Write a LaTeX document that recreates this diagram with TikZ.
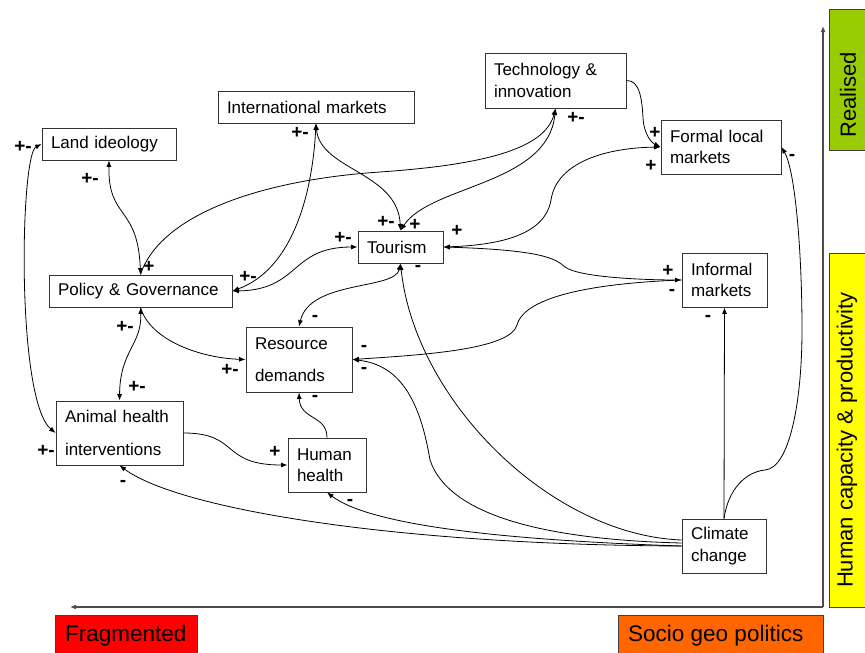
\documentclass[tikz,border=0pt]{standalone}
\usepackage{fontspec}
\setmainfont{Liberation Sans}
\usetikzlibrary{arrows.meta,calc}
\definecolor{realgreen}{HTML}{99CC00}
\definecolor{capyellow}{HTML}{FFFF00}
\definecolor{fragred}{HTML}{FF0000}
\definecolor{socorange}{HTML}{FF6600}
\tikzset{
  box/.style={draw=black!80, line width=0.9pt, fill=white, align=left, inner xsep=9pt, inner ysep=0pt,
    font=\fontsize{17}{21.5}\selectfont},
  lab/.style={font=\fontsize{19}{19}\selectfont\bfseries, inner sep=0pt},
  conn/.style={line width=0.8pt, black},
  tip/.tip={Latex[length=6.5pt,width=5pt]},
  bar/.style={draw=black!75, line width=0.8pt},
  bartext/.style={font=\fontsize{22}{22}\selectfont, inner sep=0pt},
  axis/.style={line width=1.3pt, black!70, -{Latex[length=6pt,width=5pt]}}
}
\begin{document}
\begin{tikzpicture}[x=1pt,y=-1pt]
\useasboundingbox (0,0) rectangle (865,653);

% nodes
\node[box, text width=116, minimum height=32] (land) at (109,144) {Land ideology};
\node[box, text width=178, minimum height=32] (intl) at (316,107) {International markets};
\node[box, text width=123, minimum height=55] (tech) at (555.5,80.5) {Technology \&\\innovation};
\node[box, text width=102, minimum height=54] (form) at (721,147) {Formal local\\markets};
\node[box, text width=67, minimum height=32] (tour) at (400.5,247) {Tourism};
\node[box, text width=165, minimum height=32] (pol) at (140.5,291) {Policy \& Governance};
\node[box, text width=67, minimum height=54] (info) at (724.5,280) {Informal\\markets};
\node[box, text width=88, minimum height=65] (res) at (299,359.5) {Resource\\[10pt]demands};
\node[box, text width=109, minimum height=64] (anim) at (119.5,433) {Animal health\\[11pt]interventions};
\node[box, text width=60, minimum height=54] (hum) at (327,465) {Human\\health};
\node[box, text width=66, minimum height=54] (clim) at (724,546) {Climate\\change};

% side bars
\draw[bar, fill=realgreen] (829,9) rectangle (872,150);
\node[bartext, rotate=90] (realt) at (848,95) {Realised};
\draw[bar, fill=capyellow] (829,253) rectangle (872,607);
\node[bartext, rotate=90] (capt) at (847,440) {Human capacity \& productivity};
\node[bar, fill=fragred, minimum width=142, minimum height=46, anchor=north west, inner sep=0pt] (frag) at (55,615) {};
\node[bartext, font=\fontsize{22.5}{22.5}\selectfont, anchor=west] at (65,636) {Fragmented};
\node[bar, fill=socorange, minimum width=205, minimum height=46, anchor=north west, inner sep=0pt] (soc) at (618,615) {};
\node[bartext, font=\fontsize{22.5}{22.5}\selectfont, anchor=west] at (628,636) {Socio geo politics};

% axes
\coordinate (orig) at (823,607);
\coordinate (ytop) at (823,26);
\coordinate (xleft) at (70,607);
\draw[axis] (orig) -- (ytop);
\draw[axis] (orig) -- (xleft);

% connectors
\begin{scope}[conn]
\draw[tip-tip] (land.west) .. controls (20,155) and (16,400) .. (anim.west);
\draw[tip-tip] (land.south) .. controls (108,220) and (138,205) .. (pol.north);
\draw[-tip] (pol.north) .. controls (160,215) and (260,180) .. (380,172) .. controls (480,165) and (545,150) .. (tech.south);
\draw[tip-tip] (tech.south) .. controls (548,185) and (430,185) .. (tour.north);
\draw[tip-tip] (intl.south) .. controls (320,170) and (398,172) .. (tour.north);
\draw[tip-tip] (intl.south) .. controls (312,200) and (290,270) .. (pol.east);
\draw[tip-tip] (pol.east) .. controls (300,290) and (290,247) .. (tour.west);
\draw[tip-tip] (tour.east) .. controls (500,245) and (545,235) .. (551,200) .. controls (556,165) and (600,148) .. (form.west);
\draw[-tip] (tech.east) .. controls (640,80) and (642,100) .. (643,118) .. controls (644,135) and (652,143) .. (form.west);
\draw[tip-tip] (tour.east) .. controls (540,250) and (555,258) .. (565,267) .. controls (580,278) and (650,280) .. (info.west);
\draw[-tip] (info.west) .. controls (600,283) and (525,295) .. (517,325) .. controls (510,350) and (420,355) .. (res.east);
\draw[-tip] ([yshift=6pt]clim.west) .. controls (550,535) and (415,400) .. (tour.south);
\draw[-tip] ([yshift=3pt]clim.west) .. controls (560,540) and (450,520) .. (430,460) .. controls (420,400) and (400,365) .. (res.east);
\draw[-tip] (clim.west) .. controls (500,540) and (370,525) .. (hum.south);
\draw[-tip] (clim.west) .. controls (400,545) and (180,510) .. (anim.south);
\draw[-tip] (clim.north) -- (info.south);
\draw[-tip] (clim.north) .. controls (728,490) and (745,472) .. (765,470) .. controls (790,468) and (802,400) .. (802,330) .. controls (802,250) and (795,170) .. (form.east);
\draw[tip-tip] (pol.south) .. controls (142,345) and (120,350) .. (anim.north);
\draw[-tip] (pol.south) .. controls (150,340) and (200,358) .. (res.west);
\draw[tip-tip] (tour.south) .. controls (395,290) and (310,280) .. (res.north);
\draw[-tip] (hum.north) .. controls (327,415) and (300,420) .. (res.south);
\draw[-tip] (anim.east) .. controls (240,433) and (220,465) .. (hum.west);
\end{scope}

% polarity labels
\node[lab] at (23,147) {+-};
\node[lab] at (90,179) {+-};
\node[lab] at (149,267) {+};
\node[lab] at (300,133) {+-};
\node[lab] at (576,118) {+-};
\node[lab] at (386,222) {+-};
\node[lab] at (415,225) {+};
\node[lab] at (457,231) {+};
\node[lab] at (343,238) {+-};
\node[lab] at (248,277) {+-};
\node[lab] at (655,133) {+};
\node[lab] at (651,166) {+};
\node[lab] at (792,157) {-};
\node[lab] at (668,271) {+};
\node[lab] at (672,292) {-};
\node[lab] at (418,268) {-};
\node[lab] at (315,318) {-};
\node[lab] at (125,327) {+-};
\node[lab] at (137,387) {+-};
\node[lab] at (230,370) {+-};
\node[lab] at (364,348) {-};
\node[lab] at (364,370) {-};
\node[lab] at (708,318) {-};
\node[lab] at (315,398) {-};
\node[lab] at (275,452) {+};
\node[lab] at (46,451) {+-};
\node[lab] at (123,483) {-};
\node[lab] at (350,502) {-};
\end{tikzpicture}
\end{document}
